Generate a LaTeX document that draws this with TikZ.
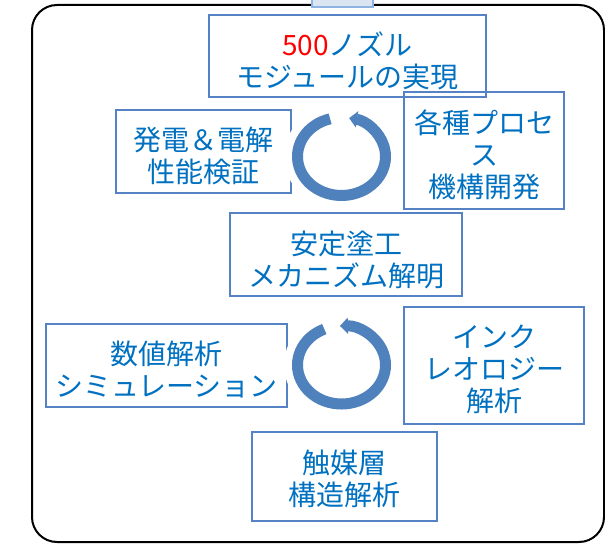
\documentclass[tikz,border=0pt]{standalone}
\usepackage{fontspec}
\newfontfamily\jp{Noto Sans CJK JP}
\usetikzlibrary{arrows.meta}
\definecolor{boxblue}{RGB}{84,130,196}
\definecolor{ringblue}{RGB}{79,129,189}
\definecolor{txtblue}{RGB}{0,112,192}
\definecolor{tabfill}{RGB}{219,229,241}
\definecolor{tabedge}{RGB}{142,180,227}
\begin{document}
\begin{tikzpicture}[x=1pt,y=1pt,
 box/.style={draw=boxblue,line width=1.6pt,rectangle,inner sep=0pt},
 lbl/.style={inner sep=0pt,align=center,text=txtblue,font=\jp\fontsize{28}{32}\selectfont},
 ring/.style={draw=ringblue,line width=11pt,-{Triangle[length=8pt,width=16pt]}},
 halo/.style={draw=white,line width=27pt}]
\useasboundingbox (0,0) rectangle (605,544);
\draw[line width=2pt,rounded corners=25pt] (32,539) rectangle (604,2);
\node[draw=tabedge,fill=tabfill,line width=2pt,minimum width=61pt,minimum height=10pt,inner sep=0pt] (tab) at (342.5,542) {};
\node[box,minimum width=277pt,minimum height=82pt] (b1) at (347.5,488) {};
\node[box,minimum width=175pt,minimum height=83pt] (b2) at (203.5,392.5) {};
\node[box,minimum width=160pt,minimum height=117pt] (b3) at (484,393.5) {};
\node[box,minimum width=232pt,minimum height=83pt] (b4) at (346,289.5) {};
\node[box,minimum width=241pt,minimum height=83pt] (b5) at (166.5,178.5) {};
\node[box,minimum width=180pt,minimum height=117pt] (b6) at (494,178.5) {};
\node[box,minimum width=185pt,minimum height=89pt] (b7) at (344.5,67.5) {};
\node[lbl,yshift=-4.5pt] (t1) at (b1.center) {\textcolor{red}{500}ノズル\\モジュールの実現};
\node[lbl,yshift=-4pt] (t2) at (b2.center) {発電＆電解\\性能検証};
\node[lbl,yshift=-4.5pt] (t3) at (b3.center) {各種プロセ\\ス\\機構開発};
\node[lbl,yshift=-5pt] (t4) at (b4.center) {安定塗工\\メカニズム解明};
\node[lbl,yshift=-4pt] (t5) at (b5.center) {数値解析\\シミュレーション};
\node[lbl,yshift=-3.5pt] (t6) at (b6.center) {インク\\レオロジー\\解析};
\node[lbl,yshift=-2pt] (t7) at (b7.center) {触媒層\\構造解析};
\coordinate (c1) at (341.5,387.5);
\coordinate (c2) at (341.5,179);
\draw[halo] (c1) ellipse[x radius=44pt,y radius=39pt];
\draw[halo] (c2) ellipse[x radius=44pt,y radius=39pt];
\draw[ring] ([shift={(105:44pt and 39pt)}]c1) arc[start angle=105,end angle=440,x radius=44pt,y radius=39pt];
\draw[ring] ([shift={(113:44pt and 39pt)}]c2) arc[start angle=113,end angle=452,x radius=44pt,y radius=39pt];
\end{tikzpicture}
\end{document}
